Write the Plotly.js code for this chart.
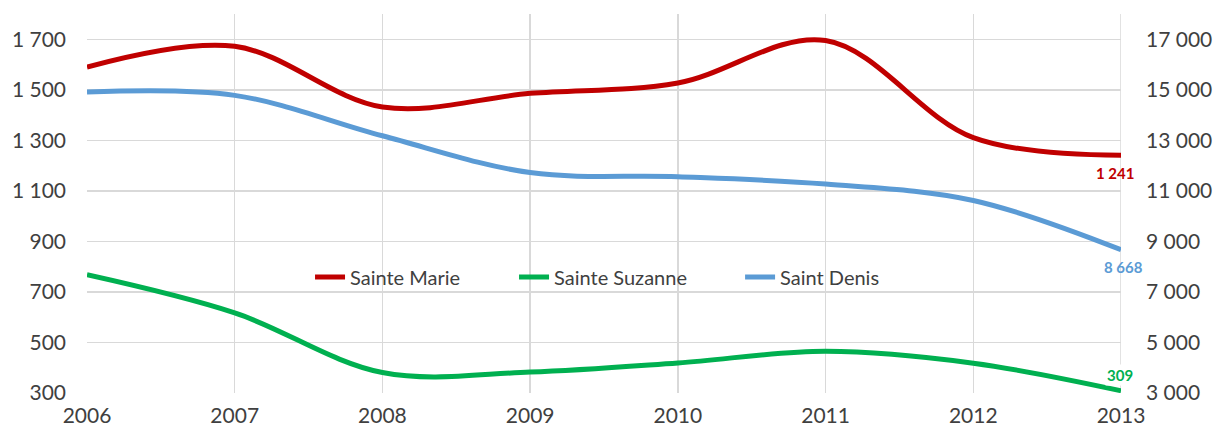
<!DOCTYPE html>
<html>
<head>
<meta charset="utf-8">
<script src="https://cdn.plot.ly/plotly-3.0.1.min.js"></script>
<style>html,body{margin:0;padding:0;background:#fff;}#chart{width:1215px;height:434px;}</style>
</head>
<body>
<div id="chart"></div>
<script>
var years = [2006, 2007, 2008, 2009, 2010, 2011, 2012, 2013];
var sainteMarie = [1590, 1672, 1432, 1486, 1527, 1695, 1311, 1241];
var sainteSuzanne = [768, 617, 381, 383, 419, 465, 418, 309];
var saintDenis = [14910, 14780, 13180, 11724, 11560, 11270, 10620, 8668];
var leftTicks = [300, 500, 700, 900, 1100, 1300, 1500, 1700];
var rightTicks = [3000, 5000, 7000, 9000, 11000, 13000, 15000, 17000];

function fmt(v) { return String(v).replace(/\B(?=(\d{3})+(?!\d))/g, ' '); }

var FONT = 'Lato, "Open Sans", sans-serif';
var TXT = '#404040';
var GRID = '#d9d9d9';

var traces = [
  {x: years, y: sainteMarie, name: 'Sainte Marie', type: 'scatter', mode: 'lines', legend: 'legend',
   line: {color: '#C00000', width: 5, shape: 'spline', smoothing: 1}, yaxis: 'y'},
  {x: years, y: sainteSuzanne, name: 'Sainte Suzanne', type: 'scatter', mode: 'lines', legend: 'legend2',
   line: {color: '#00B050', width: 5, shape: 'spline', smoothing: 1}, yaxis: 'y'},
  {x: years, y: saintDenis, name: 'Saint Denis', type: 'scatter', mode: 'lines', legend: 'legend3',
   line: {color: '#5B9BD5', width: 5, shape: 'spline', smoothing: 1}, yaxis: 'y2'}
];

var last = years.length - 1;
var annotations = [
  {x: years[last], y: sainteMarie[last], xref: 'x', yref: 'y', text: fmt(sainteMarie[last]),
   showarrow: false, xshift: -6, yshift: -18, font: {family: FONT, size: 15, color: '#C00000', weight: 'bold'}},
  {x: years[last], y: saintDenis[last], xref: 'x', yref: 'y2', text: fmt(saintDenis[last]),
   showarrow: false, xshift: 2, yshift: -17, font: {family: FONT, size: 15, color: '#5B9BD5', weight: 'bold'}},
  {x: years[last], y: sainteSuzanne[last], xref: 'x', yref: 'y', text: fmt(sainteSuzanne[last]),
   showarrow: false, xshift: -1, yshift: 16, bgcolor: '#ffffff', font: {family: FONT, size: 15, color: '#00B050', weight: 'bold'}}
];

function leg(xp) {
  return {orientation: 'h', x: xp, y: 0.306, xanchor: 'left', yanchor: 'middle',
          bgcolor: 'rgba(0,0,0,0)', font: {family: FONT, size: 20, color: TXT}};
}

var layout = {
  width: 1215, height: 434,
  margin: {l: 87, r: 94, t: 14, b: 41},
  paper_bgcolor: '#ffffff', plot_bgcolor: '#ffffff',
  font: {family: FONT, color: TXT, size: 21},
  showlegend: true,
  legend: leg(0.2157),
  legend2: leg(0.413),
  legend3: leg(0.6316),
  xaxis: {range: [2006, 2013], tickvals: years, ticktext: years.map(String),
          showgrid: true, gridcolor: GRID, gridwidth: 1.5, zeroline: false, showline: false,
          ticks: '', ticklabelstandoff: 8, tickfont: {family: FONT, size: 21, color: TXT}},
  yaxis: {range: [300, 1800], tickvals: leftTicks, ticktext: leftTicks.map(fmt),
          showgrid: true, gridcolor: GRID, gridwidth: 1.5, zeroline: false, showline: false,
          ticks: '', ticklabelstandoff: 20, tickfont: {family: FONT, size: 21, color: TXT}},
  yaxis2: {range: [3000, 18000], tickvals: rightTicks, ticktext: rightTicks.map(fmt),
           overlaying: 'y', side: 'right', showgrid: false, zeroline: false, showline: false,
           ticks: '', ticklabelstandoff: 24, tickfont: {family: FONT, size: 21, color: TXT}},
  shapes: [
    {type: 'line', xref: 'x', yref: 'paper', x0: 2013, x1: 2013, y0: 0, y1: 1,
     line: {color: GRID, width: 1.5}, layer: 'below'}
  ],
  annotations: annotations
};

Plotly.newPlot('chart', traces, layout, {displayModeBar: false, staticPlot: true});
</script>
</body>
</html>
